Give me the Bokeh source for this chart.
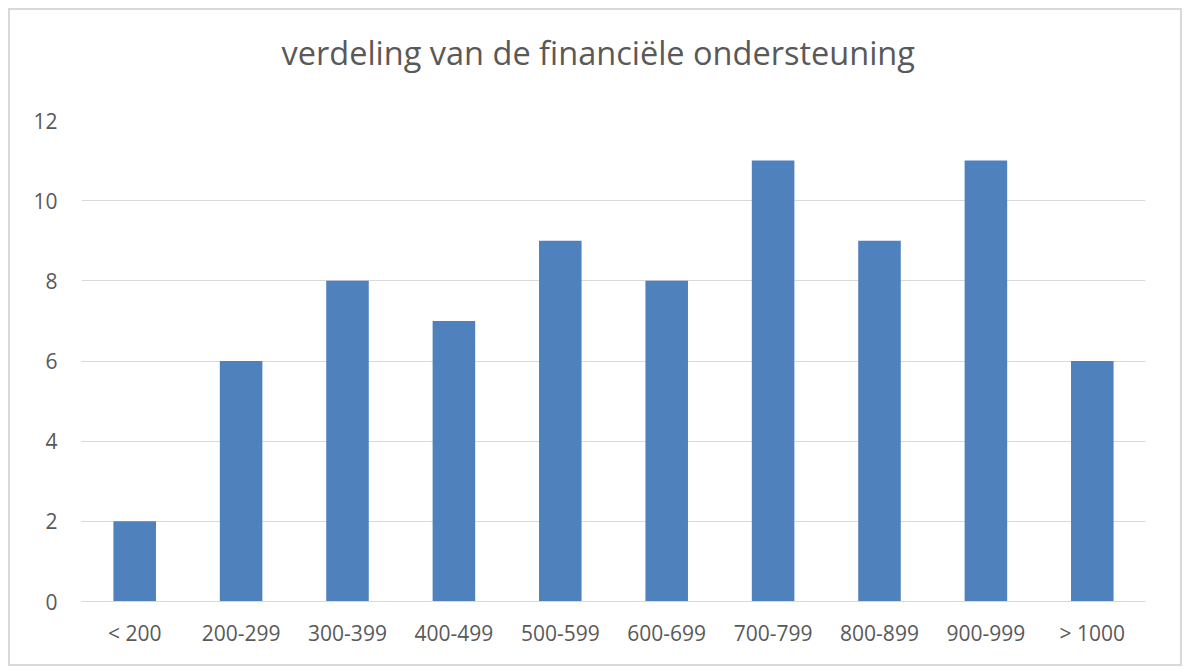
from bokeh.plotting import figure
from bokeh.models import Title, SingleIntervalTicker
from bokeh.embed import file_html
from bokeh.resources import INLINE

categories = ["< 200", "200-299", "300-399", "400-499", "500-599", "600-699",
              "700-799", "800-899", "900-999", "> 1000"]
counts = [2, 6, 8, 7, 9, 8, 11, 9, 11, 6]
title_text = "verdeling van de financiële ondersteuning"

p = figure(x_range=categories, y_range=(0, 12), width=1174, height=658,
           output_backend="svg", toolbar_location=None,
           min_border_left=71, min_border_right=39, min_border_top=110, min_border_bottom=67)

p.vbar(x=categories, top=counts, width=0.40, color="#4f81bd", line_color=None)

# spacer between the frame and the title
spacer = Title(text=" ", text_font_size="1px", standoff=43, text_color="#ffffff")
p.add_layout(spacer, "above")
t = Title(text=title_text, align="left",
          text_font="Open Sans", text_font_size="32.5px", text_font_style="normal",
          text_color="#595959", standoff=0, offset=200)
p.add_layout(t, "above")

p.outline_line_color = None
p.xgrid.grid_line_color = None
p.ygrid.grid_line_color = "#d9d9d9"
p.ygrid.grid_line_width = 1
p.yaxis.ticker = SingleIntervalTicker(interval=2)
p.yaxis.axis_line_color = None
p.yaxis.major_tick_line_color = None
p.yaxis.minor_tick_line_color = None
p.xaxis.axis_line_color = "#d9d9d9"
p.xaxis.axis_line_width = 1
p.xaxis.major_tick_line_color = None
p.xaxis.minor_tick_line_color = None
for ax in (p.xaxis, p.yaxis):
    ax.major_label_text_font = "Open Sans"
    ax.major_label_text_font_size = "21px"
    ax.major_label_text_color = "#595959"
p.xaxis.major_label_standoff = 11
p.yaxis.major_label_standoff = 18
p.styles = {"border": "2px solid #d9d9d9", "margin": "8px 0 0 8px"}

open("out.html", "w").write(file_html(p, INLINE))
